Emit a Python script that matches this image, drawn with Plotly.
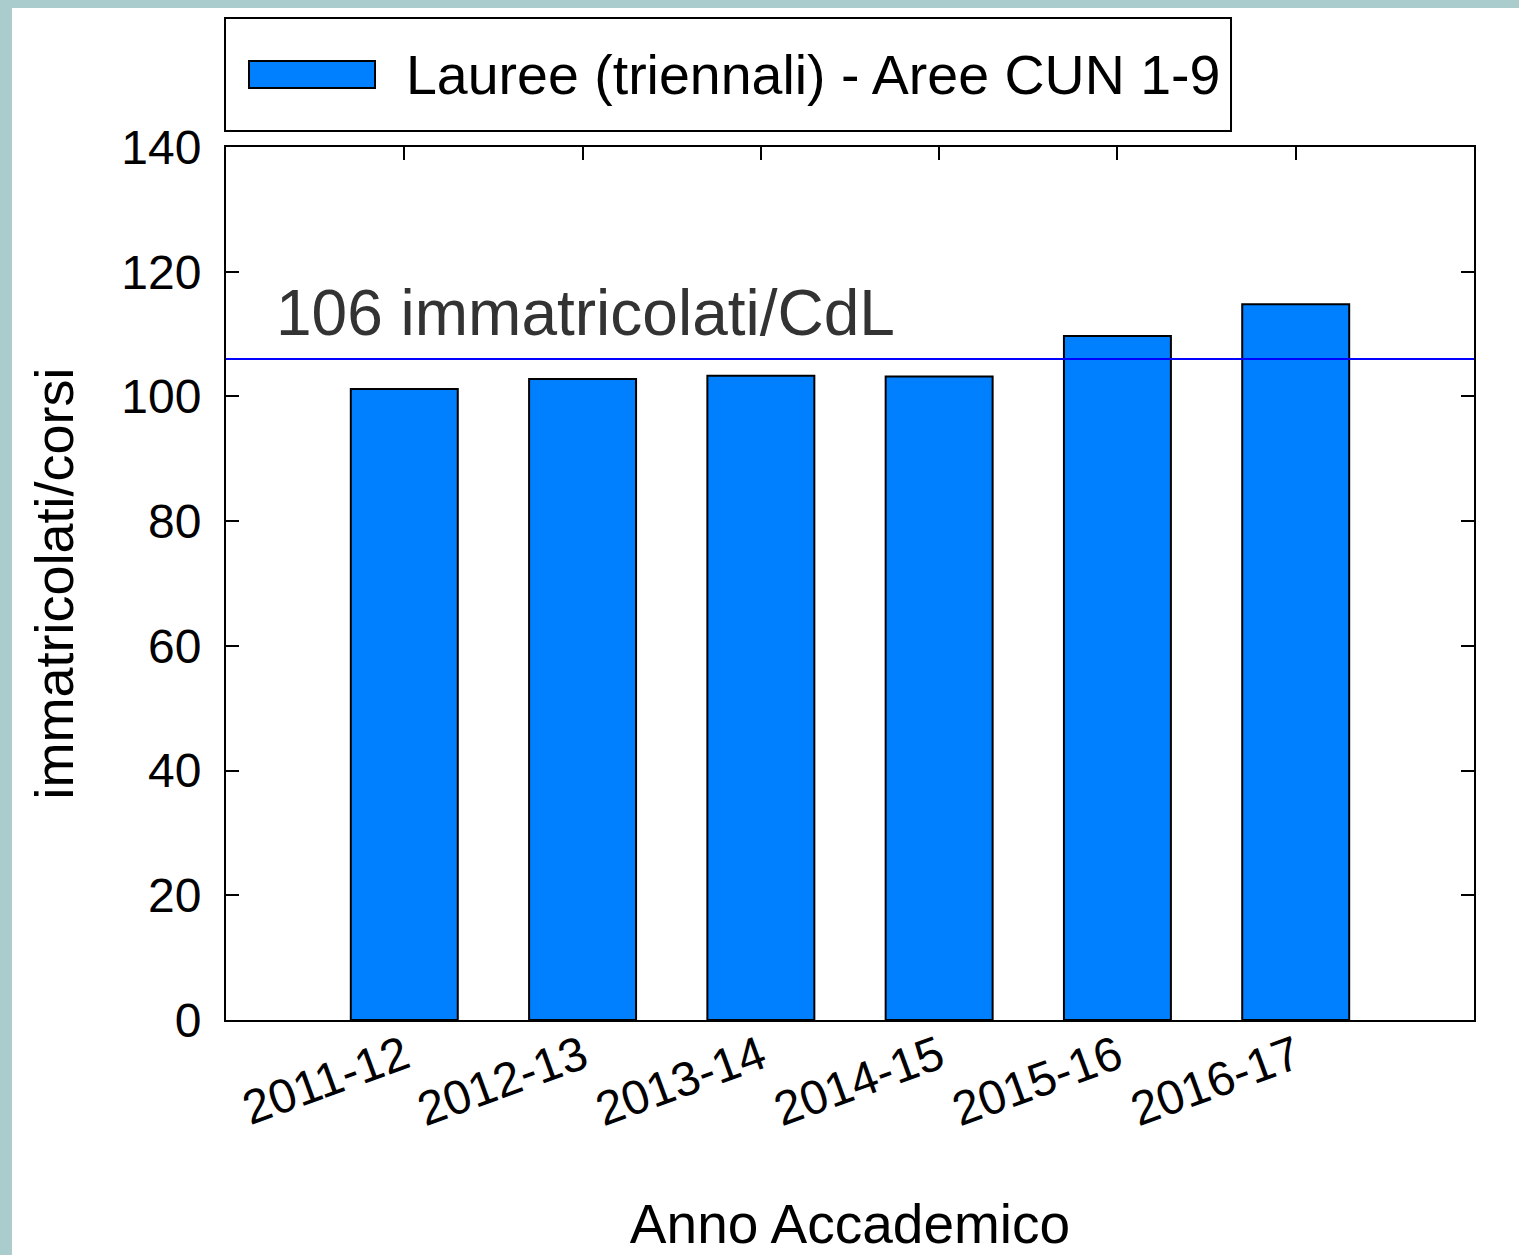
import plotly.graph_objects as go

# ---- data ----
anni = ["2011-12", "2012-13", "2013-14", "2014-15", "2015-16", "2016-17"]
immatricolati_per_corso = [101.2, 102.8, 103.3, 103.2, 109.7, 114.8]
media_riferimento = 106
serie_nome = "Lauree (triennali) - Aree CUN 1-9"
etichetta_media = "106 immatricolati/CdL"
y_ticks = [0, 20, 40, 60, 80, 100, 120, 140]

FONT = "Liberation Sans, Arial, sans-serif"
BAR_COLOR = "#0080ff"

fig = go.Figure()
fig.add_trace(go.Bar(
    x=anni, y=immatricolati_per_corso, name=serie_nome,
    width=0.6, marker=dict(color=BAR_COLOR, line=dict(color="black", width=2)),
    showlegend=False,
))

shapes = [
    # white page over teal paper background
    dict(type="rect", xref="paper", yref="paper", x0=-0.1715, x1=1.2, y0=-0.5, y1=1.1592,
         fillcolor="white", line=dict(width=0), layer="below"),
    # reference line
    dict(type="line", xref="paper", yref="y", x0=0, x1=1, y0=media_riferimento, y1=media_riferimento,
         line=dict(color="#0000ff", width=2), layer="above"),
    # legend box
    dict(type="rect", xref="paper", yref="paper", x0=-0.0008, x1=0.8053, y0=1.0183, y1=1.1478,
         fillcolor="white", line=dict(color="black", width=2)),
    # legend symbol
    dict(type="rect", xref="paper", yref="paper", x0=0.01843, x1=0.1194, y0=1.0676, y1=1.0985,
         fillcolor=BAR_COLOR, line=dict(color="black", width=2)),
]

annotations = [
    dict(text=serie_nome, xref="paper", yref="paper", x=0.1425, y=1.0825,
         xanchor="left", yanchor="middle", showarrow=False,
         font=dict(family=FONT, size=55.5, color="black")),
    dict(text=etichetta_media, xref="paper", yref="y", x=0.0384, y=113.4,
         xanchor="left", yanchor="middle", showarrow=False,
         font=dict(family=FONT, size=64, color="#333333")),
]

fig.update_layout(
    width=1519, height=1255,
    margin=dict(l=226, r=45, t=147, b=235),
    paper_bgcolor="#aacccc", plot_bgcolor="white",
    font=dict(family=FONT, size=48, color="black"),
    shapes=shapes, annotations=annotations,
    bargap=0.4,
)
fig.update_xaxes(
    type="category", range=[-1, 6], automargin=False,
    tickangle=-20, ticks="inside", ticklen=13, tickwidth=2, tickcolor="black",
    showline=True, linecolor="black", linewidth=2, mirror="ticks",
    showgrid=False, layer="below traces",
    tickfont=dict(size=48), ticklabelstandoff=-12,
    title=dict(text="Anno Accademico", font=dict(size=55), standoff=70),
)
fig.update_yaxes(
    range=[0, 140], tickvals=y_ticks, automargin=False,
    ticks="inside", ticklen=13, tickwidth=2, tickcolor="black",
    showline=True, linecolor="black", linewidth=2, mirror="ticks",
    showgrid=False, zeroline=False, layer="below traces",
    tickfont=dict(size=48), ticklabelstandoff=13,
    title=dict(text="immatricolati/corsi", font=dict(size=54), standoff=30),
)

fig.write_html("out.html", config={"displayModeBar": False},
               post_script="document.body.style.margin='0';")
